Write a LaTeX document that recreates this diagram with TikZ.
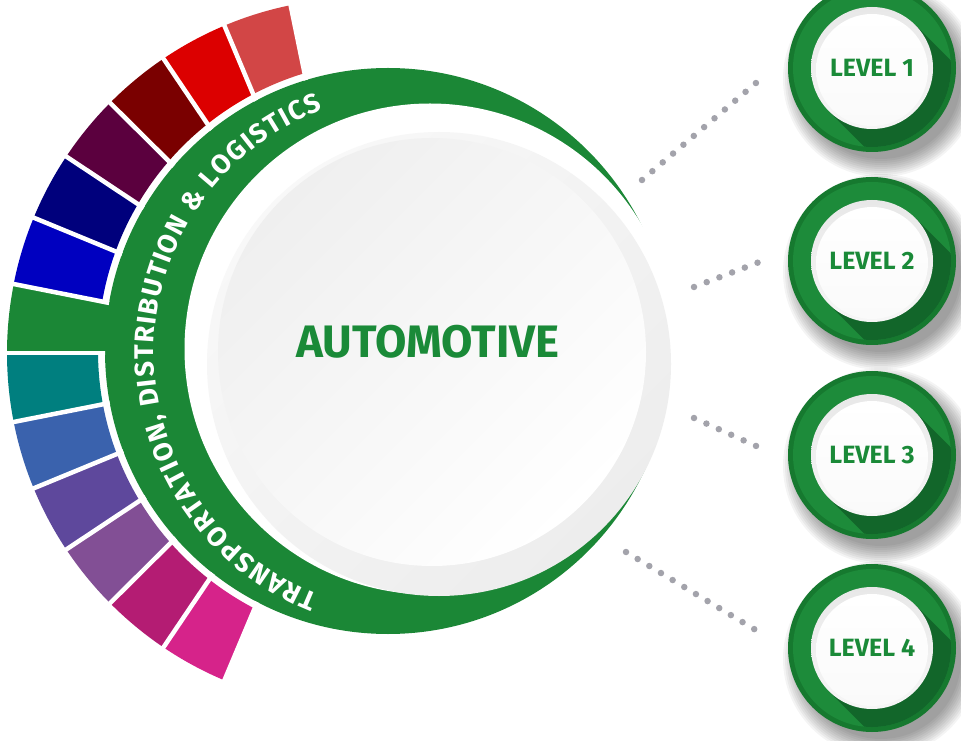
\documentclass[tikz,border=0pt]{standalone}
\usepackage{fontspec}
\setmainfont{Fira Sans}
\usetikzlibrary{decorations.text}
\definecolor{ringgreen}{HTML}{1B8736}
\definecolor{txtgreen}{HTML}{1A8A38}
\definecolor{segA}{HTML}{D24646}
\definecolor{segB}{HTML}{DC0000}
\definecolor{segC}{HTML}{7A0000}
\definecolor{segD}{HTML}{5B003E}
\definecolor{segE}{HTML}{00007C}
\definecolor{segF}{HTML}{0000C0}
\definecolor{segH}{HTML}{007F7F}
\definecolor{segI}{HTML}{3A62AD}
\definecolor{segJ}{HTML}{5E489C}
\definecolor{segK}{HTML}{824F95}
\definecolor{segL}{HTML}{B41C73}
\definecolor{segM}{HTML}{D6238A}
\definecolor{dotgray}{HTML}{A3A3AB}
\definecolor{btnrim}{HTML}{16792F}
\definecolor{btngreen}{HTML}{1D8B3A}
\definecolor{btndark}{HTML}{12662A}
\definecolor{ringA}{HTML}{F8F8F8}
\definecolor{ringB}{HTML}{EDEDED}
\definecolor{discA}{HTML}{EFEFEF}
\definecolor{btnA}{HTML}{E8E8E8}
\definecolor{btnB}{HTML}{F6F6F6}
\definecolor{btnC}{HTML}{FAFAFA}
\tikzset{
  sepline/.style={white, line width=4.5pt},
  dotline/.style={dotgray, line width=6.5pt, line cap=round, dash pattern=on 0pt off 13.6pt},
  lvltext/.style={text=txtgreen, font=\fontsize{25}{25}\selectfont\bfseries, inner sep=0pt},
  bigtext/.style={text=txtgreen, font=\fontsize{45.5}{45.5}\selectfont\bfseries, inner sep=0pt},
}
\begin{document}
\begin{tikzpicture}[x=1pt,y=1pt]
\useasboundingbox (0,0) rectangle (961,740);
\fill[white] (0,0) rectangle (961,740);
\coordinate (CA) at (388,389);
\coordinate (CB) at (362,387);
\coordinate (W) at (430,391);
\coordinate (G) at (439,376);
\coordinate (I) at (432,388);
\coordinate (T) at (414,387);
\coordinate (B1) at (872,672);
\coordinate (B2) at (872,479);
\coordinate (B3) at (872,285);
\coordinate (B4) at (872,92);
\coordinate (d1s) at (642,560);
\coordinate (d1e) at (763,663);
\coordinate (d2s) at (694,453);
\coordinate (d2e) at (762,479);
\coordinate (d3s) at (694,322);
\coordinate (d3e) at (765,290);
\coordinate (d4s) at (626,188);
\coordinate (d4e) at (764,105);

% button shadows
\foreach \n in {1,2,3,4}{
  \foreach \k in {0,...,9}{
    \fill[black,opacity=0.045] ([shift={(9,-11)}]B\n) circle[radius={(98-2*\k)*1pt}];
  }
}

% coloured segments
\foreach \a/\col in {101.6/segA,112.8/segB,124.0/segC,135.2/segD,146.4/segE,157.6/segF,180.0/segH,191.2/segI,202.4/segJ,213.6/segK,224.8/segL,236.0/segM}{
  \pgfmathsetmacro\b{\a+11.2}
  \begin{scope}
    \clip (CB) -- ([shift={(\a:420pt)}]CB) arc[start angle=\a, end angle=\b, radius=420pt] -- cycle;
    \fill[\col, even odd rule] (CB) circle[radius=355pt] (CA) circle[radius=290pt];
  \end{scope}
}
% green tab and ring
\fill[ringgreen] (CB) -- ([shift={(168.8:355pt)}]CB) arc[start angle=168.8, end angle=180, radius=355pt] -- cycle;
\fill[ringgreen] (CA) circle[radius=283pt];
% separators
\begin{scope}[even odd rule]
  \clip (CB) circle[radius=362pt] (CA) circle[radius=283pt];
  \foreach \a in {101.6,112.8,124.0,135.2,146.4,157.6,168.8,180.0,191.2,202.4,213.6,224.8,236.0,247.2}{
    \draw[sepline] (CB) -- ([shift={(\a:380pt)}]CB);
  }
\end{scope}
% central discs
\fill[white] (W) circle[radius=245.5pt];
\shade[top color=ringA, bottom color=ringB, shading angle=45] (G) circle[radius=232pt];
\shade[top color=discA, bottom color=white, shading angle=45] (I) circle[radius=214pt];
\node[bigtext] (auto) at (428,398.5) {AUTOMOTIVE};
% curved text
\path[decorate, decoration={text along path,
  text={|\fontsize{27}{27}\selectfont\bfseries\color{white}|TRANSPORTATION, DISTRIBUTION {\&} LOGISTICS},
  text align=fit to path}]
  ([shift={(248.5:260pt)}]T) arc[start angle=248.5, end angle=110.5, radius=260pt];

% dotted connectors
\draw[dotline] (d1s) -- (d1e);
\draw[dotline] (d2s) -- (d2e);
\draw[dotline] (d3s) -- (d3e);
\draw[dotline] (d4s) -- (d4e);

% level buttons
\foreach \n in {1,2,3,4}{
  \fill[btnrim] (B\n) circle[radius=84pt];
  \fill[btngreen] (B\n) circle[radius=79pt];
  \begin{scope}
    \clip (B\n) circle[radius=79pt];
    \fill[btndark] ([shift={(45:61pt)}]B\n) -- ++(45,-45) arc[start angle=45, end angle=-135, radius=61pt] -- ++(-45,45) -- cycle;
  \end{scope}
  \shade[top color=btnA, bottom color=btnB] (B\n) circle[radius=61pt];
  \shade[top color=white, bottom color=btnC] ([shift={(0,-2)}]B\n) circle[radius=56pt];
  \node[lvltext] (lvl\n) at (B\n) {LEVEL \n};
}
\end{tikzpicture}
\end{document}
